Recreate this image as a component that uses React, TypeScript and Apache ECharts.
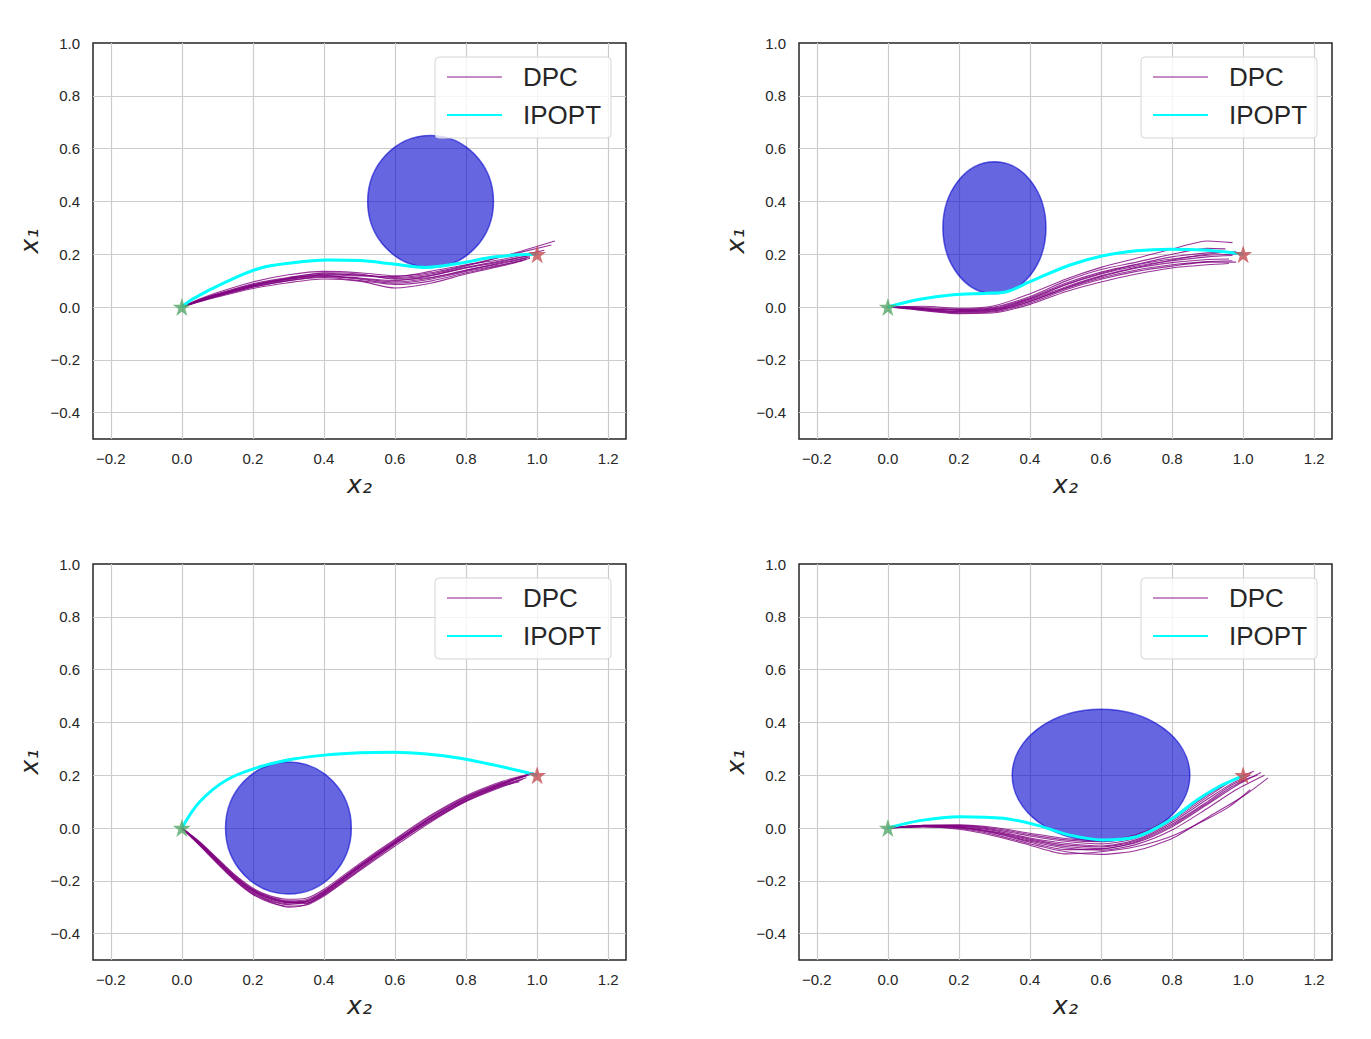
import { useEffect, useRef } from 'react';
import * as echarts from 'echarts';

// axis ranges and tick step (same on all four panels)
const xRange = [-0.25, 1.25];
const yRange = [-0.5, 1.0];
const tickStep = 0.2;

// start / goal markers
const startPoint = [0, 0];
const goalPoint = [1, 0.2];

// obstacles: [cx, cy, rx, ry]
const obstacleTL = [0.7, 0.4, 0.177, 0.25];
const obstacleTR = [0.3, 0.3, 0.145, 0.25];
const obstacleBL = [0.3, 0.0, 0.177, 0.25];
const obstacleBR = [0.6, 0.2, 0.25, 0.25];

// IPOPT trajectories [x2, x1]
const ipoptTL = [[0, 0], [0.03, 0.03], [0.126, 0.096], [0.22, 0.147], [0.314, 0.168], [0.408, 0.178], [0.501, 0.176], [0.595, 0.163], [0.689, 0.15], [0.783, 0.166], [0.877, 0.189], [0.95, 0.198], [1, 0.2]];
const ipoptTR = [[0, 0], [0.09, 0.029], [0.184, 0.046], [0.278, 0.052], [0.334, 0.058], [0.4, 0.096], [0.513, 0.159], [0.606, 0.194], [0.7, 0.213], [0.794, 0.219], [0.888, 0.216], [0.982, 0.204], [1, 0.2]];
const ipoptBL = [[0, 0], [0.051, 0.1], [0.126, 0.182], [0.22, 0.232], [0.314, 0.261], [0.408, 0.277], [0.501, 0.285], [0.595, 0.287], [0.689, 0.28], [0.783, 0.264], [0.877, 0.239], [0.98, 0.207], [1, 0.2]];
const ipoptBR = [[0, 0], [0.09, 0.028], [0.203, 0.043], [0.325, 0.037], [0.419, 0.011], [0.513, -0.027], [0.606, -0.045], [0.7, -0.033], [0.794, 0.03], [0.87, 0.106], [0.935, 0.159], [0.992, 0.194], [1, 0.2]];

// DPC rollouts [x2, x1]
const dpcTL = [
  [[0, 0], [0.05, 0.028], [0.1, 0.05], [0.2, 0.088], [0.3, 0.112], [0.4, 0.128], [0.5, 0.12], [0.6, 0.108], [0.7, 0.12], [0.8, 0.15], [0.9, 0.175], [0.98, 0.195]],
  [[0, 0], [0.05, 0.022], [0.1, 0.04], [0.2, 0.075], [0.3, 0.1], [0.4, 0.115], [0.5, 0.108], [0.6, 0.095], [0.7, 0.11], [0.8, 0.14], [0.9, 0.165], [0.97, 0.185]],
  [[0, 0], [0.05, 0.03], [0.1, 0.055], [0.2, 0.095], [0.3, 0.122], [0.4, 0.135], [0.5, 0.13], [0.6, 0.118], [0.7, 0.13], [0.8, 0.158], [0.9, 0.19], [1.04, 0.235]],
  [[0, 0], [0.05, 0.02], [0.1, 0.038], [0.2, 0.07], [0.3, 0.092], [0.4, 0.106], [0.5, 0.098], [0.6, 0.072], [0.7, 0.09], [0.8, 0.125], [0.9, 0.155], [0.96, 0.175]],
  [[0, 0], [0.05, 0.026], [0.1, 0.047], [0.2, 0.083], [0.3, 0.108], [0.4, 0.124], [0.5, 0.122], [0.6, 0.112], [0.7, 0.125], [0.8, 0.155], [0.9, 0.19], [1.05, 0.25]],
  [[0, 0], [0.05, 0.024], [0.1, 0.044], [0.2, 0.078], [0.3, 0.104], [0.4, 0.118], [0.5, 0.11], [0.6, 0.1], [0.7, 0.118], [0.8, 0.148], [0.9, 0.172], [0.99, 0.2]],
  [[0, 0], [0.05, 0.027], [0.1, 0.049], [0.2, 0.085], [0.3, 0.11], [0.4, 0.13], [0.5, 0.125], [0.6, 0.105], [0.7, 0.112], [0.8, 0.138], [0.9, 0.168], [0.98, 0.19]],
  [[0, 0], [0.05, 0.021], [0.1, 0.042], [0.2, 0.08], [0.3, 0.107], [0.4, 0.12], [0.5, 0.105], [0.6, 0.09], [0.7, 0.105], [0.8, 0.135], [0.9, 0.16], [0.97, 0.18]],
  [[0, 0], [0.05, 0.025], [0.1, 0.046], [0.2, 0.082], [0.3, 0.106], [0.4, 0.122], [0.5, 0.118], [0.6, 0.115], [0.7, 0.135], [0.8, 0.16], [0.9, 0.18], [1.02, 0.215]],
  [[0, 0], [0.05, 0.023], [0.1, 0.043], [0.2, 0.076], [0.3, 0.1], [0.4, 0.112], [0.5, 0.1], [0.6, 0.085], [0.7, 0.098], [0.8, 0.13], [0.9, 0.158], [0.98, 0.185]],
];
const dpcTR = [
  [[0, 0], [0.05, 0.002], [0.1, 0.003], [0.2, -0.005], [0.3, 0.005], [0.4, 0.05], [0.5, 0.105], [0.6, 0.15], [0.7, 0.185], [0.8, 0.22], [0.9, 0.25], [0.97, 0.244]],
  [[0, 0], [0.05, -0.004], [0.1, -0.01], [0.2, -0.02], [0.3, -0.015], [0.4, 0.02], [0.5, 0.07], [0.6, 0.11], [0.7, 0.14], [0.8, 0.16], [0.9, 0.172], [0.97, 0.175]],
  [[0, 0], [0.05, -0.002], [0.1, -0.005], [0.2, -0.01], [0.3, -0.003], [0.4, 0.035], [0.5, 0.09], [0.6, 0.132], [0.7, 0.162], [0.8, 0.19], [0.9, 0.205], [0.95, 0.208]],
  [[0, 0], [0.05, -0.006], [0.1, -0.014], [0.2, -0.025], [0.3, -0.022], [0.4, 0.01], [0.5, 0.058], [0.6, 0.095], [0.7, 0.125], [0.8, 0.148], [0.9, 0.16], [0.96, 0.165]],
  [[0, 0], [0.05, -0.003], [0.1, -0.007], [0.2, -0.013], [0.3, -0.008], [0.4, 0.03], [0.5, 0.083], [0.6, 0.125], [0.7, 0.155], [0.8, 0.175], [0.9, 0.19], [0.97, 0.195]],
  [[0, 0], [0.05, 0.001], [0.1, -0.002], [0.2, -0.008], [0.3, 0.0], [0.4, 0.04], [0.5, 0.098], [0.6, 0.142], [0.7, 0.17], [0.8, 0.2], [0.9, 0.222], [0.95, 0.22]],
  [[0, 0], [0.05, -0.005], [0.1, -0.012], [0.2, -0.022], [0.3, -0.018], [0.4, 0.015], [0.5, 0.065], [0.6, 0.105], [0.7, 0.135], [0.8, 0.155], [0.9, 0.17], [0.98, 0.17]],
  [[0, 0], [0.05, -0.002], [0.1, -0.006], [0.2, -0.012], [0.3, -0.006], [0.4, 0.032], [0.5, 0.085], [0.6, 0.128], [0.7, 0.16], [0.8, 0.182], [0.9, 0.196], [0.98, 0.2]],
  [[0, 0], [0.05, -0.004], [0.1, -0.009], [0.2, -0.017], [0.3, -0.013], [0.4, 0.022], [0.5, 0.072], [0.6, 0.115], [0.7, 0.148], [0.8, 0.168], [0.9, 0.18], [0.96, 0.182]],
  [[0, 0], [0.05, -0.003], [0.1, -0.008], [0.2, -0.016], [0.3, -0.01], [0.4, 0.026], [0.5, 0.076], [0.6, 0.118], [0.7, 0.15], [0.8, 0.178], [0.9, 0.2], [0.98, 0.21]],
];
const dpcBL = [
  [[0, 0], [0.05, -0.06], [0.1, -0.125], [0.15, -0.19], [0.2, -0.24], [0.25, -0.27], [0.3, -0.283], [0.35, -0.28], [0.4, -0.245], [0.5, -0.148], [0.6, -0.055], [0.7, 0.035], [0.8, 0.11], [0.9, 0.165], [0.97, 0.198]],
  [[0, 0], [0.05, -0.065], [0.1, -0.135], [0.15, -0.2], [0.2, -0.252], [0.25, -0.283], [0.3, -0.296], [0.35, -0.292], [0.4, -0.258], [0.5, -0.162], [0.6, -0.068], [0.7, 0.022], [0.8, 0.1], [0.9, 0.155], [0.96, 0.185]],
  [[0, 0], [0.05, -0.052], [0.1, -0.115], [0.15, -0.178], [0.2, -0.228], [0.25, -0.258], [0.3, -0.27], [0.35, -0.266], [0.4, -0.232], [0.5, -0.135], [0.6, -0.042], [0.7, 0.048], [0.8, 0.122], [0.9, 0.176], [0.98, 0.205]],
  [[0, 0], [0.05, -0.058], [0.1, -0.122], [0.15, -0.186], [0.2, -0.236], [0.25, -0.266], [0.3, -0.279], [0.35, -0.284], [0.4, -0.255], [0.5, -0.158], [0.6, -0.062], [0.7, 0.028], [0.8, 0.104], [0.9, 0.16], [0.95, 0.18]],
  [[0, 0], [0.05, -0.063], [0.1, -0.13], [0.15, -0.195], [0.2, -0.246], [0.25, -0.277], [0.3, -0.29], [0.35, -0.278], [0.4, -0.24], [0.5, -0.142], [0.6, -0.05], [0.7, 0.04], [0.8, 0.116], [0.9, 0.17], [0.97, 0.2]],
  [[0, 0], [0.05, -0.056], [0.1, -0.118], [0.15, -0.182], [0.2, -0.232], [0.25, -0.262], [0.3, -0.276], [0.35, -0.272], [0.4, -0.238], [0.5, -0.14], [0.6, -0.046], [0.7, 0.044], [0.8, 0.118], [0.9, 0.172], [0.96, 0.195]],
  [[0, 0], [0.05, -0.061], [0.1, -0.128], [0.15, -0.193], [0.2, -0.243], [0.25, -0.274], [0.3, -0.287], [0.35, -0.286], [0.4, -0.252], [0.5, -0.155], [0.6, -0.06], [0.7, 0.03], [0.8, 0.106], [0.9, 0.162], [0.97, 0.19]],
  [[0, 0], [0.05, -0.054], [0.1, -0.12], [0.15, -0.184], [0.2, -0.234], [0.25, -0.264], [0.3, -0.28], [0.35, -0.276], [0.4, -0.242], [0.5, -0.145], [0.6, -0.052], [0.7, 0.038], [0.8, 0.113], [0.9, 0.168], [0.98, 0.202]],
  [[0, 0], [0.05, -0.066], [0.1, -0.133], [0.15, -0.198], [0.2, -0.25], [0.25, -0.28], [0.3, -0.3], [0.35, -0.29], [0.4, -0.25], [0.5, -0.15], [0.6, -0.058], [0.7, 0.026], [0.8, 0.102], [0.9, 0.158], [0.95, 0.175]],
  [[0, 0], [0.05, -0.059], [0.1, -0.124], [0.15, -0.188], [0.2, -0.238], [0.25, -0.268], [0.3, -0.282], [0.35, -0.279], [0.4, -0.247], [0.5, -0.15], [0.6, -0.054], [0.7, 0.036], [0.8, 0.112], [0.9, 0.166], [0.99, 0.21]],
];
const dpcBR = [
  [[0, 0], [0.1, 0.008], [0.2, 0.006], [0.3, -0.01], [0.4, -0.038], [0.5, -0.058], [0.6, -0.068], [0.7, -0.044], [0.8, 0.022], [0.9, 0.11], [0.97, 0.17], [1.02, 0.2]],
  [[0, 0], [0.1, 0.005], [0.2, -0.002], [0.3, -0.025], [0.4, -0.06], [0.5, -0.09], [0.6, -0.1], [0.7, -0.085], [0.8, -0.04], [0.9, 0.04], [1.0, 0.12], [1.07, 0.19]],
  [[0, 0], [0.1, 0.01], [0.2, 0.01], [0.3, -0.002], [0.4, -0.025], [0.5, -0.045], [0.6, -0.052], [0.7, -0.03], [0.8, 0.035], [0.9, 0.125], [0.96, 0.175]],
  [[0, 0], [0.1, 0.006], [0.2, 0.002], [0.3, -0.016], [0.4, -0.046], [0.5, -0.07], [0.6, -0.078], [0.7, -0.055], [0.8, 0.005], [0.9, 0.09], [0.98, 0.16], [1.05, 0.21]],
  [[0, 0], [0.1, 0.008], [0.2, 0.004], [0.3, -0.014], [0.4, -0.042], [0.5, -0.064], [0.6, -0.072], [0.7, -0.048], [0.8, 0.015], [0.9, 0.1], [0.97, 0.165], [1.04, 0.2]],
  [[0, 0], [0.1, 0.004], [0.2, -0.005], [0.3, -0.03], [0.4, -0.065], [0.5, -0.098], [0.6, -0.09], [0.7, -0.07], [0.8, -0.03], [0.9, 0.035], [0.96, 0.08], [1.02, 0.145]],
  [[0, 0], [0.1, 0.009], [0.2, 0.008], [0.3, -0.006], [0.4, -0.03], [0.5, -0.05], [0.6, -0.06], [0.7, -0.038], [0.8, 0.028], [0.9, 0.118], [0.97, 0.18], [1.03, 0.215]],
  [[0, 0], [0.1, 0.007], [0.2, 0.003], [0.3, -0.018], [0.4, -0.05], [0.5, -0.076], [0.6, -0.084], [0.7, -0.062], [0.8, -0.008], [0.9, 0.075], [0.98, 0.145], [1.06, 0.2]],
  [[0, 0], [0.1, 0.006], [0.2, 0.001], [0.3, -0.02], [0.4, -0.054], [0.5, -0.082], [0.6, -0.08], [0.7, -0.052], [0.8, 0.01], [0.9, 0.095], [0.97, 0.158], [1.01, 0.185]],
  [[0, 0], [0.1, 0.01], [0.2, 0.012], [0.3, 0.002], [0.4, -0.02], [0.5, -0.04], [0.6, -0.048], [0.7, -0.025], [0.8, 0.04], [0.9, 0.13], [0.95, 0.17]],
];

const panels = [
  { obstacle: obstacleTL, ipopt: ipoptTL, dpc: dpcTL },
  { obstacle: obstacleTR, ipopt: ipoptTR, dpc: dpcTR },
  { obstacle: obstacleBL, ipopt: ipoptBL, dpc: dpcBL },
  { obstacle: obstacleBR, ipopt: ipoptBR, dpc: dpcBR },
];

// layout (px)
const boxes = [
  { left: 93, top: 43 },
  { left: 799, top: 43 },
  { left: 93, top: 564 },
  { left: 799, top: 564 },
];
const boxW = 533;
const boxH = 396;

const STAR = 'path://M50 0 L61.2 34.5 L97.6 34.5 L68.2 55.9 L79.4 90.5 L50 69.1 L20.6 90.5 L31.8 55.9 L2.4 34.5 L38.8 34.5 Z';
const INK = '#262626';

const fmtTick = (v: number) => {
  const k = v / tickStep;
  if (Math.abs(k - Math.round(k)) > 1e-6) return '';
  return (Math.round(k) * tickStep).toFixed(1).replace('-', '\u2212');
};

const App = () => {
  const chartRef = useRef<HTMLDivElement>(null);

  useEffect(() => {
    if (!chartRef.current) return;
    const chart = echarts.init(chartRef.current, null, { renderer: 'svg' });

    const axisCommon = {
      type: 'value' as const,
      minInterval: tickStep,
      maxInterval: tickStep,
      axisLine: { show: false },
      axisTick: { show: false },
      splitLine: {
        show: true,
        showMinLine: false,
        showMaxLine: false,
        lineStyle: { color: '#cccccc', width: 1.2 },
      },
      axisLabel: {
        formatter: fmtTick,
        fontFamily: 'Liberation Sans',
        fontSize: 15,
        color: INK,
      },
      nameLocation: 'middle' as const,
      nameTextStyle: {
        fontFamily: 'DejaVu Sans',
        fontStyle: 'italic' as const,
        fontSize: 25,
        color: INK,
      },
    };

    const series: any[] = [];
    panels.forEach((p, i) => {
      series.push({
        type: 'custom',
        name: 'obstacle',
        xAxisIndex: i,
        yAxisIndex: i,
        data: [p.obstacle],
        encode: { x: 0, y: 1 },
        renderItem: (_params: any, api: any) => {
          const c = api.coord([api.value(0), api.value(1)]);
          const s = api.size([api.value(2), api.value(3)]);
          return {
            type: 'ellipse',
            shape: { cx: c[0], cy: c[1], rx: s[0], ry: s[1] },
            style: { fill: 'rgba(0,0,205,0.6)', stroke: 'rgba(0,0,205,0.6)', lineWidth: 1.5 },
          };
        },
        z: 1,
        silent: true,
      });
      p.dpc.forEach((traj) => {
        series.push({
          type: 'line',
          name: 'DPC',
          xAxisIndex: i,
          yAxisIndex: i,
          data: traj,
          symbol: 'none',
          smooth: 0.25,
          lineStyle: { color: '#800080', width: 1.1, opacity: 0.8 },
          itemStyle: { color: '#800080' },
          z: 2,
          silent: true,
        });
      });
      series.push({
        type: 'line',
        name: 'IPOPT',
        xAxisIndex: i,
        yAxisIndex: i,
        data: p.ipopt,
        symbol: 'none',
        smooth: 0.35,
        lineStyle: { color: '#00ffff', width: 3 },
        itemStyle: { color: '#00ffff' },
        z: 3,
        silent: true,
      });
      series.push({
        type: 'scatter',
        name: 'markers',
        xAxisIndex: i,
        yAxisIndex: i,
        symbol: STAR,
        symbolSize: 18,
        data: [
          { value: startPoint, itemStyle: { color: '#55a868' } },
          { value: goalPoint, itemStyle: { color: '#c44e52' } },
        ],
        z: 4,
        silent: true,
      });
    });

    const option: echarts.EChartsOption = {
      animation: false,
      backgroundColor: '#ffffff',
      grid: boxes.map((b) => ({
        left: b.left,
        top: b.top,
        width: boxW,
        height: boxH,
        show: true,
        borderColor: INK,
        borderWidth: 1.5,
        backgroundColor: '#ffffff',
        containLabel: false,
      })),
      xAxis: boxes.map((_b, i) => ({
        ...axisCommon,
        gridIndex: i,
        min: xRange[0],
        max: xRange[1],
        splitNumber: 7,
        name: 'x\u2082',
        nameGap: 33,
        axisLabel: { ...axisCommon.axisLabel, margin: 12 },
      })),
      yAxis: boxes.map((_b, i) => ({
        ...axisCommon,
        gridIndex: i,
        min: yRange[0],
        max: yRange[1],
        splitNumber: 7,
        name: 'x\u2081',
        nameGap: 51,
        axisLabel: { ...axisCommon.axisLabel, margin: 13 },
      })),
      legend: boxes.map((b) => ({
        data: [
          { name: 'DPC', lineStyle: { opacity: 0.45 } },
          { name: 'IPOPT' },
        ],
        orient: 'vertical',
        left: b.left + 342,
        top: b.top + 14,
        itemWidth: 55,
        itemHeight: 14,
        itemGap: 8,
        padding: [5, 10, 8, 11],
        backgroundColor: 'rgba(255,255,255,0.8)',
        borderColor: '#d6d6d6',
        borderWidth: 1,
        borderRadius: 4,
        selectedMode: false,
        itemStyle: { color: 'rgba(0,0,0,0)', borderWidth: 0, opacity: 0 },
        textStyle: {
          fontFamily: 'Liberation Sans',
          fontSize: 26,
          color: INK,
          lineHeight: 30,
          padding: [0, 0, 0, 16],
        },
      })),
      series,
    };

    chart.setOption(option);
    return () => {
      chart.dispose();
    };
  }, []);

  return (
    <div
      ref={chartRef}
      style={{ position: 'absolute', left: 0, top: 0, width: '1371px', height: '1039px' }}
    />
  );
};

export default App;
